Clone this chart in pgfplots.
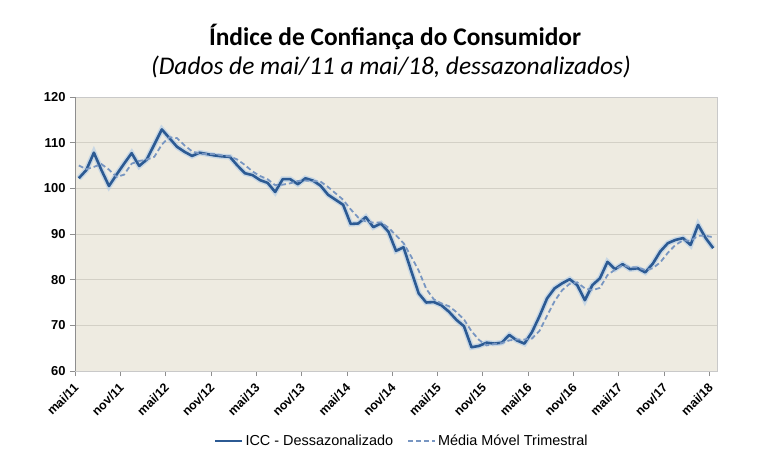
\documentclass[border=0pt]{standalone}
\usepackage{pgfplots}
\pgfplotsset{compat=1.18}
\usepackage{pgfplotstable}
\usepackage{fontspec}
\setmainfont{Liberation Sans}
\newfontfamily\titlefont{Carlito}
\definecolor{bgc}{HTML}{EEEBE1}
\definecolor{gridc}{HTML}{D3D0C6}
\definecolor{axisgray}{HTML}{8E8E8E}
\definecolor{boxgray}{HTML}{C9C9C9}
\definecolor{iccblue}{HTML}{2C5A93}
\definecolor{glowblue}{HTML}{A9C7E8}
\definecolor{mmblue}{HTML}{7896C2}

\pgfplotstableread{
i icc mm
0 102.2 105.0
1 104.0 104.2
2 107.8 104.7
3 104.0 105.3
4 100.5 104.1
5 103.0 102.5
6 105.4 103.0
7 107.7 105.4
8 104.9 106.0
9 106.3 106.3
10 109.6 106.9
11 112.9 109.6
12 111.0 111.2
13 109.1 111.0
14 108.0 109.4
15 107.1 108.1
16 107.8 107.6
17 107.5 107.5
18 107.2 107.5
19 107.0 107.2
20 106.9 107.0
21 105.0 106.3
22 103.3 105.1
23 102.9 103.7
24 101.8 102.7
25 101.2 102.0
26 99.2 100.7
27 102.0 100.8
28 102.0 101.1
29 100.9 101.6
30 102.2 101.7
31 101.7 101.6
32 100.6 101.5
33 98.6 100.3
34 97.5 98.9
35 96.4 97.5
36 92.2 95.4
37 92.3 93.6
38 93.7 92.7
39 91.5 92.5
40 92.3 92.5
41 90.5 91.4
42 86.3 89.7
43 87.1 88.0
44 82.0 85.1
45 77.0 82.0
46 75.0 78.0
47 75.1 75.7
48 74.4 74.8
49 73.0 74.2
50 71.2 72.9
51 69.8 71.3
52 65.2 68.7
53 65.5 66.8
54 66.2 65.6
55 66.0 65.9
56 66.2 66.1
57 67.9 66.7
58 66.7 66.9
59 66.0 66.9
60 68.5 67.1
61 72.0 68.8
62 75.9 72.1
63 78.1 75.3
64 79.2 77.7
65 80.1 79.1
66 78.8 79.4
67 75.5 78.1
68 78.8 77.7
69 80.3 78.2
70 83.9 81.0
71 82.3 82.2
72 83.4 83.2
73 82.3 82.7
74 82.5 82.7
75 81.6 82.1
76 83.5 82.5
77 86.2 83.8
78 88.0 85.9
79 88.7 87.6
80 89.1 88.6
81 87.6 88.5
82 92.0 89.6
83 89.1 89.6
84 86.9 89.3
}\datatable

\begin{document}
\begin{tikzpicture}
\useasboundingbox (0,0) rectangle (770bp,476bp);
\node[font=\titlefont\bfseries\fontsize{25.5}{30}\selectfont] at (395bp,439bp) {Índice de Confiança do Consumidor};
\node[font=\titlefont\itshape\fontsize{25.5}{30}\selectfont] at (391bp,409bp) {(Dados de mai/11 a mai/18, dessazonalizados)};
\begin{axis}[
  at={(75bp,105bp)}, anchor=south west,
  scale only axis, width=642bp, height=274bp,
  xmin=-0.5, xmax=84.5, ymin=60, ymax=120,
  ytick={60,70,...,120},
  xtick={-0.5,5.5,...,83.5},
  xticklabels={mai/11,nov/11,mai/12,nov/12,mai/13,nov/13,mai/14,nov/14,mai/15,nov/15,mai/16,nov/16,mai/17,nov/17,mai/18},
  xtick pos=bottom, ytick pos=left,
  tick align=outside, major tick length=5bp,
  tick style={color=axisgray, line width=0.8pt},
  ymajorgrids, grid style={color=gridc, line width=0.9pt},
  axis background/.style={fill=bgc},
  axis line style={draw=boxgray, line width=0.8pt},
  /pgf/number format/assume math mode=true,
  yticklabel style={font=\bfseries\fontsize{13}{15}\selectfont, xshift=-1bp},
  xticklabel style={font=\bfseries\fontsize{12.5}{14}\selectfont, rotate=45, anchor=north east, inner sep=1bp, xshift=-5bp, yshift=-2bp},
  legend style={at={(0.509,-0.255)}, anchor=center, draw=none, fill=none,
    font=\fontsize{14.5}{17}\selectfont, legend columns=2,
    /tikz/every even column/.append style={column sep=12bp},
    nodes={inner xsep=2bp}},
  legend image code/.code={\draw[#1] (0bp,0bp) -- (27bp,0bp);},
]
\addplot[glowblue, line width=5.5bp, opacity=0.55, forget plot] table[x=i, y=icc]{\datatable};
\addplot[iccblue, line width=2.6bp, line join=round] table[x=i, y=icc]{\datatable};
\addlegendentry{ICC - Dessazonalizado}
\addplot[mmblue, line width=1.8bp, dash pattern=on 5bp off 3bp] table[x=i, y=mm]{\datatable};
\addlegendentry{Média Móvel Trimestral}
\draw[axisgray, line width=0.8pt] (rel axis cs:0,1) -- (rel axis cs:0,0) -- (rel axis cs:1,0);
\end{axis}
\end{tikzpicture}
\end{document}
